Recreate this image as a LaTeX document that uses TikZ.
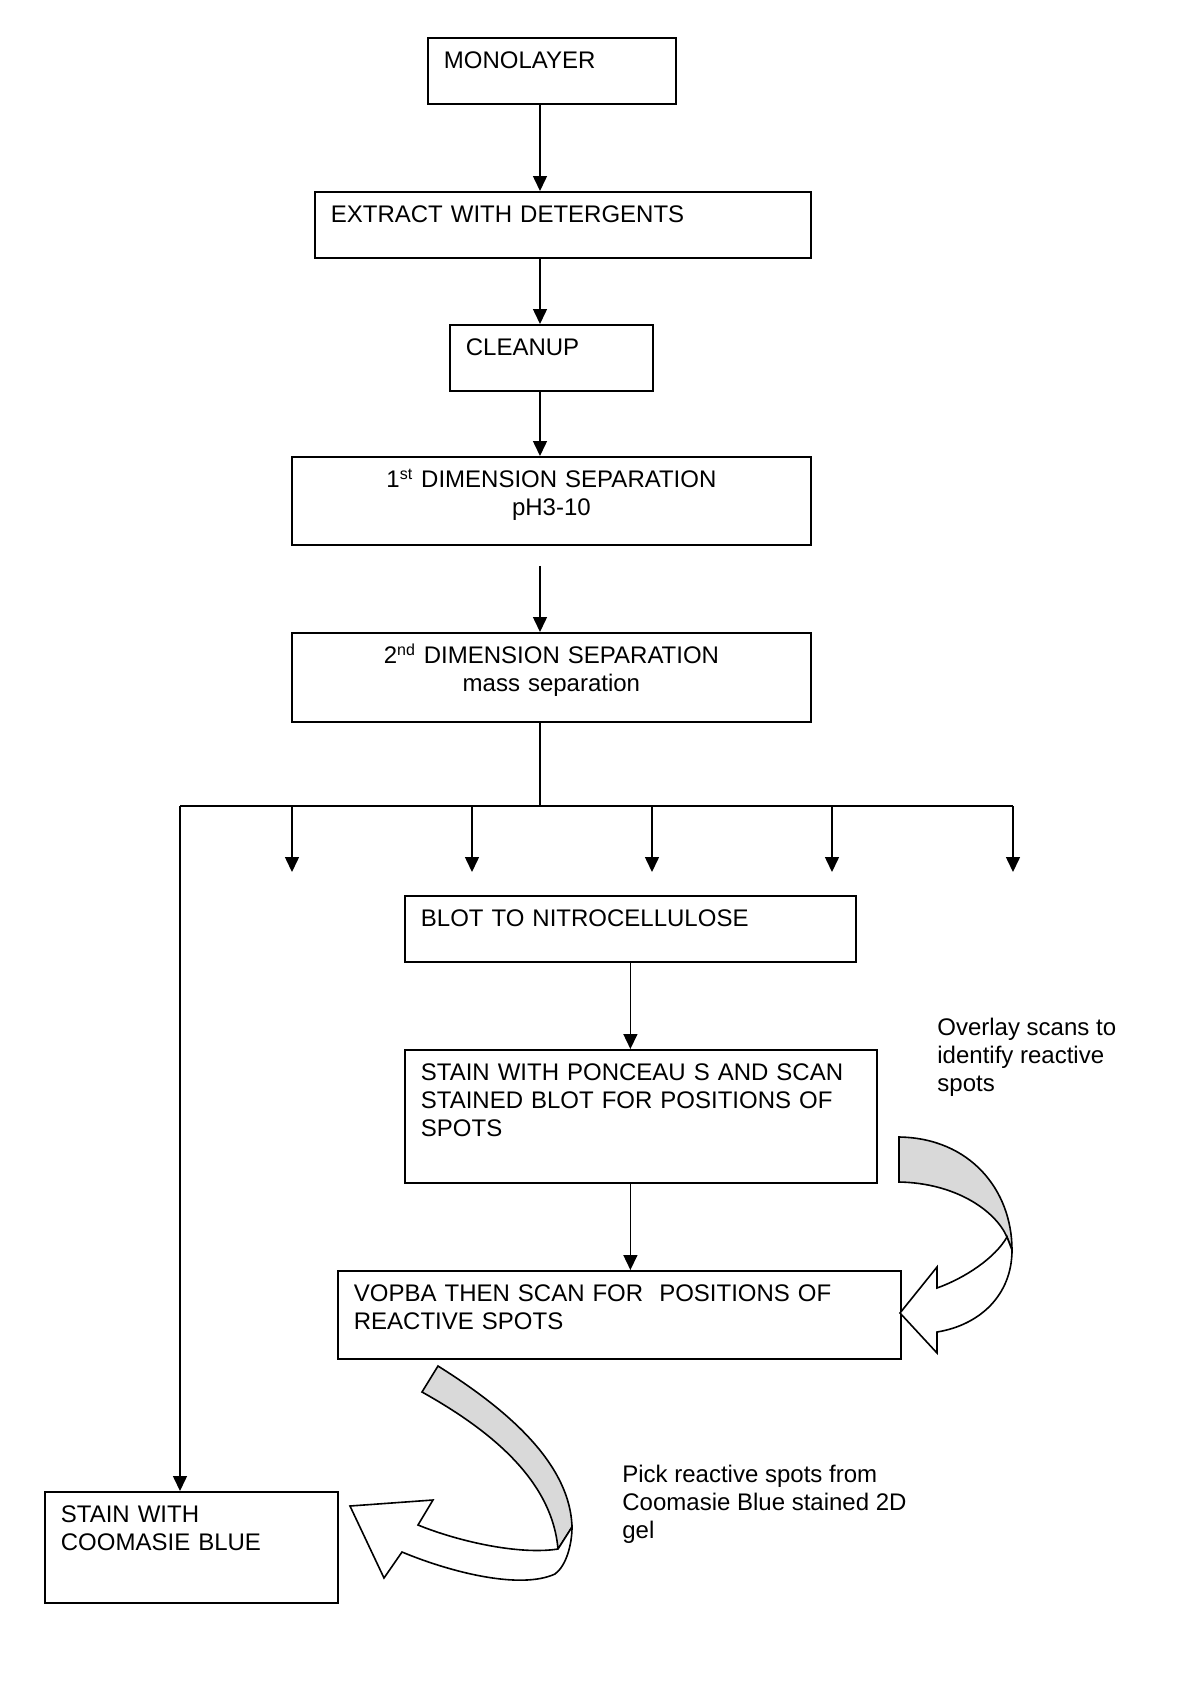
\documentclass[tikz,border=0pt]{standalone}
\usepackage{fontspec}
\setmainfont{Liberation Sans}
\usepackage{tikz}
\usetikzlibrary{arrows.meta, positioning, calc}
\usepackage{xcolor}
\definecolor{ribbongray}{RGB}{217,217,217}

\begin{document}
\begin{tikzpicture}[
    x=0.5pt, y=-0.5pt,
    every node/.style={font=\fontsize{12pt}{13.8pt}\selectfont},
    box/.style={rectangle, draw, line width=0.9pt, anchor=north west, align=left, inner xsep=8pt, inner ysep=6.5pt, text height=9pt},
    cbox/.style={box, align=center},
    note/.style={anchor=north west, align=left, inner sep=0pt},
    arrow/.style={-{Triangle[length=7.5pt, width=7pt]}, line width=0.75pt},
    ribbon/.style={draw=black, line width=0.8pt}
]
\useasboundingbox (0,0) rectangle (1200,1698);

% Main column
\node[box, text width=108pt, text depth=11pt] (mono) at (427,37) {MONOLAYER};
\node[box, text width=232pt, text depth=11pt] (extract) at (314,191) {EXTRACT WITH DETERGENTS};
\node[box, text width=85.5pt, text depth=11pt] (cleanup) at (449,324) {CLEANUP};
\node[cbox, text width=243.5pt, text depth=22pt] (dimone) at (291,456) {1\textsuperscript{st} DIMENSION SEPARATION\\pH3-10};
\node[cbox, text width=243.5pt, text depth=22.5pt] (dimtwo) at (291,632) {2\textsuperscript{nd} DIMENSION SEPARATION\\mass separation};

% Blot branch
\node[box, text width=209.5pt, text depth=11pt] (blot) at (404,895) {BLOT TO NITROCELLULOSE};
\node[box, text width=220pt, text depth=44.5pt] (ponceau) at (404,1049) {STAIN WITH PONCEAU S AND SCAN\\STAINED BLOT FOR POSITIONS OF\\SPOTS};
\node[box, text width=265.5pt, text depth=22pt] (vopba) at (337,1270) {VOPBA THEN SCAN FOR~ POSITIONS OF\\REACTIVE SPOTS};

% Gel branch
\node[box, text width=130.5pt, text depth=33.5pt] (coom) at (44,1491) {STAIN WITH\\COOMASIE BLUE};

% Notes
\node[note] (overlay) at (937,1018) {Overlay scans to\\identify reactive\\spots};
\node[note] (pick) at (622,1465) {Pick reactive spots from\\Coomasie Blue stained 2D\\gel};

% Arrows
\coordinate (spine) at (540,0);
\draw[arrow] (mono.south -| spine) -- (extract.north -| spine);
\draw[arrow] (extract.south -| spine) -- (cleanup.north -| spine);
\draw[arrow] (cleanup.south -| spine) -- (dimone.north -| spine);
\draw[arrow, shorten <=10pt] (dimone.south -| spine) -- (dimtwo.north -| spine);

% Split to the gels
\coordinate (busL) at (180,806);
\coordinate (busR) at (1013,806);
\draw[line width=0.75pt] (dimtwo.south -| spine) -- (spine |- busL);
\draw[line width=0.9pt] (busL) -- (busR);
\foreach \x [count=\i] in {292,472,652,832,1013} {
    \coordinate (drop\i) at (\x,872);
    \draw[arrow] (drop\i |- busL) -- (drop\i);
}
\draw[arrow] (busL) -- (busL |- coom.north);

\draw[arrow] (blot.south) -- (blot.south |- ponceau.north);
\draw[arrow] (blot.south |- ponceau.south) -- (blot.south |- vopba.north);

% Curved arrow - overlay
\fill[ribbongray, ribbon] (899,1137) .. controls (970,1138) and (1012,1190) .. (1012,1250)
    -- (1007,1237) .. controls (995,1210) and (955,1183) .. (899,1182) -- cycle;
\filldraw[fill=white, ribbon] (1007,1237) -- (1012,1250) .. controls (1012,1295) and (980,1325) .. (937,1332)
    -- (937,1353) -- (900,1313) -- (937,1267) -- (937,1288)
    .. controls (965,1278) and (995,1258) .. (1007,1237) -- cycle;

% Curved arrow - pick
\fill[ribbongray, ribbon] (438,1366) .. controls (500,1405) and (570,1460) .. (572,1527)
    -- (558,1549) .. controls (552,1480) and (490,1430) .. (422,1392) -- cycle;
\filldraw[fill=white, ribbon] (558,1549) .. controls (520,1555) and (460,1542) .. (418,1525)
    -- (433,1500) -- (350,1506) -- (384,1578) -- (402,1552)
    .. controls (450,1572) and (520,1590) .. (555,1574)
    .. controls (566,1566) and (572,1545) .. (572,1527) -- cycle;

\end{tikzpicture}
\end{document}
